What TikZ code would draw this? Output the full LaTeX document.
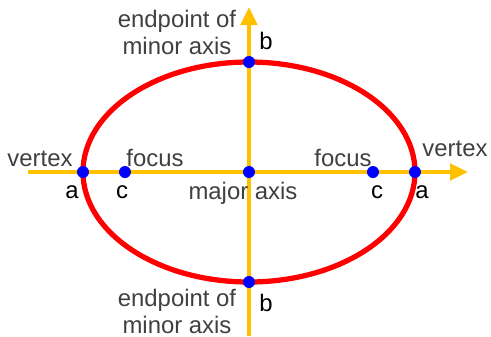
\documentclass[tikz,border=0pt]{standalone}
\usepackage{fontspec}
\setmainfont{Liberation Sans}
\usepackage{xcolor}
\usetikzlibrary{arrows.meta,positioning}

\definecolor{axisyellow}{RGB}{255,192,0}
\definecolor{curvered}{RGB}{255,0,0}
\definecolor{dotblue}{RGB}{0,0,255}
\definecolor{wordgray}{RGB}{64,64,64}

\begin{document}
\begin{tikzpicture}[
    x=0.02cm, y=0.02cm,
    font=\fontsize{13.6}{15.4}\selectfont,
    axis/.style={
        draw=axisyellow,
        line width=0.08cm
    },
    arrowaxis/.style={axis, -{Triangle[length=0.36cm, width=0.33cm]}},
    curve/.style={
        draw=curvered,
        line width=0.105cm
    },
    dot/.style={
        circle,
        fill=dotblue,
        inner sep=0pt,
        minimum size=0.24cm
    },
    word/.style={text=wordgray, inner sep=0pt, align=center},
    letter/.style={text=black, inner sep=0pt}
]

\useasboundingbox (-249,-164) rectangle (242,172);

\coordinate (xstart) at (-221,0);
\coordinate (xend) at (219,0);
\coordinate (ystart) at (0,-164);
\coordinate (yend) at (0,165);

\draw[arrowaxis] (xstart) -- (xend);
\draw[arrowaxis] (ystart) -- (yend);

\draw[curve] (0,0) ellipse [x radius=166, y radius=110];

\node[dot] (center) at (0,0) {};
\node[dot] (vertexL) at (-166,0) {};
\node[dot] (vertexR) at (166,0) {};
\node[dot] (focusL) at (-124,0) {};
\node[dot] (focusR) at (124,0) {};
\node[dot] (minorT) at (0,110) {};
\node[dot] (minorB) at (0,-110) {};

\node[word] (vertexLtext) at (-209,13) {vertex};
\node[word] (vertexRtext) at (206,23) {vertex};
\node[word] (focusLtext) at (-94,14) {focus};
\node[word] (focusRtext) at (94,14) {focus};
\node[word] (majortext) at (-6,-21) {major axis};
\node[word] (minorTtext) at (-72,140) {endpoint of\\minor axis};
\node[word] (minorBtext) at (-72,-139) {endpoint of\\minor axis};

\node[letter] (aL) at (-177,-20) {a};
\node[letter] (aR) at (173,-20) {a};
\node[letter] (cL) at (-127,-20) {c};
\node[letter] (cR) at (128,-20) {c};
\node[letter] (bT) at (17,131) {b};
\node[letter] (bB) at (17,-131) {b};

\end{tikzpicture}
\end{document}
